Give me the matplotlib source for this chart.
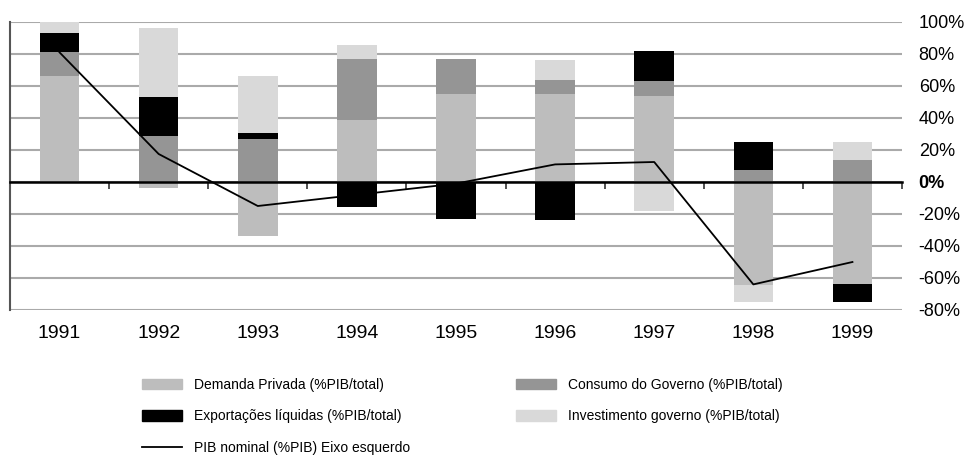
import numpy as np
import matplotlib.pyplot as plt
from matplotlib.patches import Patch
from matplotlib.lines import Line2D
from matplotlib.transforms import blended_transform_factory

plt.rcParams['font.family'] = ['Liberation Sans', 'DejaVu Sans']

# Data (share of nominal GDP growth, %)
years = ["1991", "1992", "1993", "1994", "1995", "1996", "1997", "1998", "1999"]
demanda_privada = [66, -4, -34, 39, 55, 55, 54, -64.5, -64]
consumo_governo = [15, 29, 27, 38, 22, 9, 9, 7.5, 14]
exportacoes = [12, 24, 3.5, -15.5, -23, -24, 19, 17.5, -11]
investimento = [8, 43, 36, 8.5, 0, 12, -18, -10.5, 11]
pib_nominal = [81, 17.5, -15, -8, -1, 11, 12.5, -64, -50]
y_ticks = [-80, -60, -40, -20, 0, 20, 40, 60, 80, 100]

series = [
    (demanda_privada, "#bdbdbd", "Demanda Privada (%PIB/total)"),
    (consumo_governo, "#959595", "Consumo do Governo (%PIB/total)"),
    (exportacoes, "#000000", "Exportações líquidas (%PIB/total)"),
    (investimento, "#d9d9d9", "Investimento governo (%PIB/total)"),
]

fig = plt.figure(figsize=(9.71, 4.55), dpi=100)
ax = fig.add_axes([10 / 971, 145 / 455, 892 / 971, 288 / 455])

x = np.arange(len(years))
pos_base = np.zeros(len(years))
neg_base = np.zeros(len(years))
for vals, color, label in series:
    v = np.array(vals, dtype=float)
    base = np.where(v >= 0, pos_base, neg_base)
    ax.bar(x, v, bottom=base, width=0.4, color=color, zorder=2)
    pos_base += np.where(v >= 0, v, 0)
    neg_base += np.where(v < 0, v, 0)

ax.plot(x, pib_nominal, color="black", linewidth=1.3, zorder=4)

ax.set_xlim(-0.5, len(years) - 0.5)
ax.set_ylim(-80, 100)
ax.set_yticks(y_ticks)
ax.set_yticklabels([f"{t}%" for t in y_ticks])
ax.yaxis.tick_right()
ax.tick_params(axis="y", length=0, pad=12, labelsize=13)
for lab in ax.get_yticklabels():
    if lab.get_text() == "0%":
        lab.set_fontweight("bold")
ax.grid(axis="y", color="#aaaaaa", linewidth=1.5, zorder=0)

# zero line acts as category axis
ax.spines["bottom"].set_position(("data", 0))
ax.spines["bottom"].set_linewidth(1.8)
ax.spines["bottom"].set_zorder(3)
ax.set_xticks(np.arange(len(years) + 1) - 0.5)
ax.set_xticklabels([])
ax.tick_params(axis="x", direction="out", length=5, width=1.2, color="#333333")
ax.spines["top"].set_visible(False)
ax.spines["right"].set_visible(False)
ax.spines["left"].set_color("#555555")
ax.spines["left"].set_linewidth(1.5)

trans = blended_transform_factory(ax.transData, ax.transAxes)
for i, yr in enumerate(years):
    ax.text(i, -0.08, yr, transform=trans, ha="center", va="center", fontsize=14)

col1 = [
    Patch(color=series[0][1], label=series[0][2]),
    Patch(color=series[2][1], label=series[2][2]),
    Line2D([], [], color="black", linewidth=1.3, label="PIB nominal (%PIB) Eixo esquerdo"),
]
col2 = [
    Patch(color=series[1][1], label=series[1][2]),
    Patch(color=series[3][1], label=series[3][2]),
]
leg_kw = dict(loc="upper left", frameon=False, fontsize=10, handlelength=2.9, handleheight=0.75,
              handletextpad=0.85, labelspacing=1.25, borderpad=0, borderaxespad=0)
fig.legend(handles=col1, bbox_to_anchor=(142 / 971, 1 - 378 / 455), **leg_kw)
fig.legend(handles=col2, bbox_to_anchor=(516 / 971, 1 - 378 / 455), **leg_kw)

fig.savefig("out.png", dpi=100)
